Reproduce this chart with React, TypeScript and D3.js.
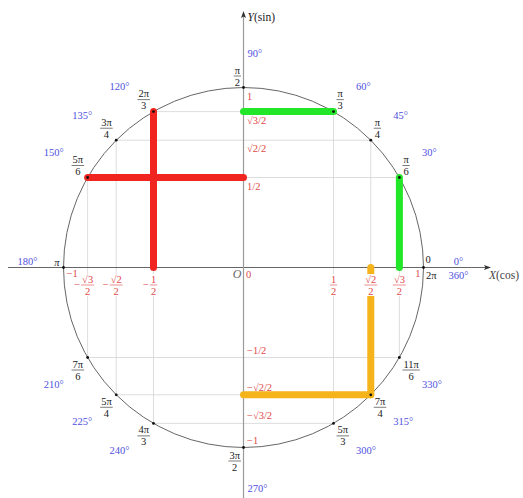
import React, { useEffect, useRef } from 'react';
import * as d3 from 'd3';

const S2 = Math.SQRT1_2;
const S3 = Math.sqrt(3) / 2;

// special angles on the unit circle
const angleDeg = [0, 30, 45, 60, 90, 120, 135, 150, 180, 210, 225, 240, 270, 300, 315, 330];
const radNum = ['0', 'π', 'π', 'π', 'π', '2π', '3π', '5π', 'π', '7π', '5π', '4π', '3π', '5π', '7π', '11π'];
const radDen = ['', '6', '4', '3', '2', '3', '4', '6', '', '6', '4', '3', '2', '3', '4', '6'];

// cos / sin reference values and their labels
const tickValues = [-1, -S3, -S2, -0.5, 0, 0.5, S2, S3, 1];
const cosNum = ['1', '√3', '√2', '1', '0', '1', '√2', '√3', '1'];
const cosDen = ['', '2', '2', '2', '', '2', '2', '2', ''];
const sinLabels = ['−1', '−√3/2', '−√2/2', '−1/2', '0', '1/2', '√2/2', '√3/2', '1'];
const gridValues = [0.5, S2, S3];

// highlighted segments [x1, y1, x2, y2] in unit coordinates
const greenSegs = [[0, S3, 0.5, S3], [S3, 0.5, S3, 0]];
const redSegs = [[-S3, 0.5, 0, 0.5], [-0.5, S3, -0.5, 0]];
const orangeSegs = [[0, -S2, S2, -S2], [S2, -S2, S2, 0]];

const W = 523;
const H = 498;
const FONT = '"Liberation Serif", "DejaVu Serif", serif';
const RED = '#e04848';
const BLUE = '#4f4fe0';
const INK = '#222';

export default function App() {
  const svgRef = useRef<SVGSVGElement>(null);

  useEffect(() => {
    if (!svgRef.current) return;
    const svg = d3.select(svgRef.current);
    svg.selectAll('*').remove();

    const cx = 243.5, cy = 267.5, R = 180;
    const x = d3.scaleLinear().domain([-1, 1]).range([cx - R, cx + R]);
    const y = d3.scaleLinear().domain([-1, 1]).range([cy + R, cy - R]);

    const root = svg.append('g').style('font-family', FONT).style('font-size', '10.5px');

    // fraction helper: returns group centred on its bar, plus its width
    const frac = (parent: any, num: string, den: string, color: string) => {
      const g = parent.append('g').attr('fill', color);
      const t1 = g.append('text').attr('y', -2.5).attr('text-anchor', 'middle').text(num);
      const t2 = g.append('text').attr('y', 9.5).attr('text-anchor', 'middle').text(den);
      const w = Math.max(t1.node().getComputedTextLength(), t2.node().getComputedTextLength()) + 2;
      g.append('line')
        .attr('x1', -w / 2).attr('x2', w / 2)
        .attr('y1', 0).attr('y2', 0)
        .attr('stroke', color).attr('stroke-width', 0.6);
      return { g, w };
    };

    // grid chords
    const grid = root.append('g').attr('stroke', '#d4d4d4').attr('stroke-width', 0.8);
    gridValues.forEach(v => {
      const h = Math.sqrt(1 - v * v);
      [v, -v].forEach(s => {
        grid.append('line').attr('x1', x(-h)).attr('x2', x(h)).attr('y1', y(s)).attr('y2', y(s));
        grid.append('line').attr('x1', x(s)).attr('x2', x(s)).attr('y1', y(-h)).attr('y2', y(h));
      });
    });

    // unit circle
    root.append('circle')
      .attr('cx', x(0)).attr('cy', y(0)).attr('r', x(1) - x(0))
      .attr('fill', 'none').attr('stroke', '#555').attr('stroke-width', 0.9);

    // axes
    root.append('line').attr('x1', 8).attr('x2', 489).attr('y1', y(0)).attr('y2', y(0))
      .attr('stroke', '#555').attr('stroke-width', 0.9);
    root.append('path').attr('d', `M491,${y(0)} l-7,-2.5 l1.5,2.5 l-1.5,2.5 Z`).attr('fill', '#333');
    root.append('line').attr('x1', x(0)).attr('x2', x(0)).attr('y1', H).attr('y2', 14)
      .attr('stroke', '#9a9a9a').attr('stroke-width', 1.2);
    root.append('path').attr('d', `M${x(0)},11 l-2.5,7 l2.5,-1.5 l2.5,1.5 Z`).attr('fill', '#333');

    // highlighted segments
    const segs = (data: number[][], color: string) => {
      root.append('g').selectAll('line').data(data).enter().append('line')
        .attr('x1', d => x(d[0])).attr('y1', d => y(d[1]))
        .attr('x2', d => x(d[2])).attr('y2', d => y(d[3]))
        .attr('stroke', color).attr('stroke-width', 7).attr('stroke-linecap', 'round');
    };
    segs(greenSegs, '#22e628');
    segs(redSegs, '#f02520');
    segs(orangeSegs, '#f5b31c');

    // points on the circle
    root.append('g').selectAll('circle').data(angleDeg).enter().append('circle')
      .attr('cx', d => x(Math.cos(d * Math.PI / 180)))
      .attr('cy', d => y(Math.sin(d * Math.PI / 180)))
      .attr('r', 1.4).attr('fill', '#111');

    // radian and degree labels
    angleDeg.forEach((deg, i) => {
      const a = deg * Math.PI / 180;
      const c = Math.cos(a), s = Math.sin(a);
      const px = x(c), py = y(s);
      if (deg === 0) {
        root.append('text').attr('x', px + 2).attr('y', py - 5).attr('fill', INK).text(radNum[i]);
        root.append('text').attr('x', px + 2.5).attr('y', py + 11).attr('fill', INK).text('2π');
        root.append('text').attr('x', px + 35).attr('y', py - 2.5).attr('text-anchor', 'middle').attr('fill', BLUE).text('0°');
        root.append('text').attr('x', px + 35).attr('y', py + 11).attr('text-anchor', 'middle').attr('fill', BLUE).text('360°');
        return;
      }
      if (deg === 180) {
        root.append('text').attr('x', px - 4).attr('y', py - 2).attr('text-anchor', 'end').attr('fill', INK).style('font-style', 'italic').text(radNum[i]);
        root.append('text').attr('x', px - 26).attr('y', py - 2.5).attr('text-anchor', 'end').attr('fill', BLUE).text(`${deg}°`);
        return;
      }
      if (deg === 90 || deg === 270) {
        const f = frac(root, radNum[i], radDen[i], INK);
        f.g.attr('transform', `translate(${px - 2.5 - f.w / 2},${deg === 90 ? py - 11.5 : py + 13.5})`);
        root.append('text').attr('x', px + 4).attr('y', deg === 90 ? py - 30.5 : py + 44.5).attr('fill', BLUE).text(`${deg}°`);
        return;
      }
      const f = frac(root, radNum[i], radDen[i], INK);
      const fx = c > 0 ? px + 3 + f.w / 2 : px - 3.5 - f.w / 2;
      const fy = s > 0 ? py - 12 : py + 12.5;
      f.g.attr('transform', `translate(${fx},${fy})`);
      root.append('text')
        .attr('x', c > 0 ? px + 22.5 : px - 24)
        .attr('y', (s > 0 ? py - 25 : py + 27) + 3.5)
        .attr('text-anchor', c > 0 ? 'start' : 'end')
        .attr('fill', BLUE).text(`${deg}°`);
    });

    // cos labels along X
    tickValues.forEach((v, i) => {
      const px = x(v);
      if (v === 0) {
        root.append('text').attr('x', px + 2.5).attr('y', y(0) + 10).attr('fill', RED).text(cosNum[i]);
        root.append('text').attr('x', px - 2).attr('y', y(0) + 10).attr('text-anchor', 'end')
          .attr('fill', '#666').style('font-style', 'italic').style('font-size', '12px').text('O');
        return;
      }
      if (cosDen[i] === '') {
        root.append('text').attr('x', v < 0 ? px + 3 : px - 3).attr('y', y(0) + 9)
          .attr('text-anchor', v < 0 ? 'start' : 'end').attr('fill', RED).text(v < 0 ? '−1' : '1');
        return;
      }
      const f = frac(root, cosNum[i], cosDen[i], RED);
      f.g.insert('rect', ':first-child')
        .attr('x', -f.w / 2 - 1).attr('y', -11).attr('width', f.w + 2).attr('height', 22).attr('fill', '#fff');
      f.g.attr('transform', `translate(${px},${y(0) + 17.5})`);
      if (v < 0) {
        root.append('text').attr('x', px - f.w / 2 - 1).attr('y', y(0) + 20.5)
          .attr('text-anchor', 'end').attr('fill', RED).text('−');
      }
    });

    // sin labels along Y
    tickValues.forEach((v, i) => {
      if (v === 0) return;
      root.append('text').attr('x', x(0) + 3.5).attr('y', v > 0 ? y(v) + 12 : y(v) - 4)
        .attr('fill', RED).text(sinLabels[i]);
    });

    // axis titles
    const yt = root.append('text').attr('x', x(0) + 4).attr('y', 21).attr('fill', INK).style('font-size', '11.5px');
    yt.append('tspan').style('font-style', 'italic').text('Y');
    yt.append('tspan').text('(sin)');
    const xt = root.append('text').attr('x', 489).attr('y', y(0) + 11).attr('fill', '#444').style('font-size', '11.5px');
    xt.append('tspan').style('font-style', 'italic').text('X');
    xt.append('tspan').text('(cos)');
  }, []);

  return (
    <svg
      ref={svgRef}
      width={W}
      height={H}
      style={{ position: 'absolute', left: 0, top: 0, background: '#fff' }}
    />
  );
}
